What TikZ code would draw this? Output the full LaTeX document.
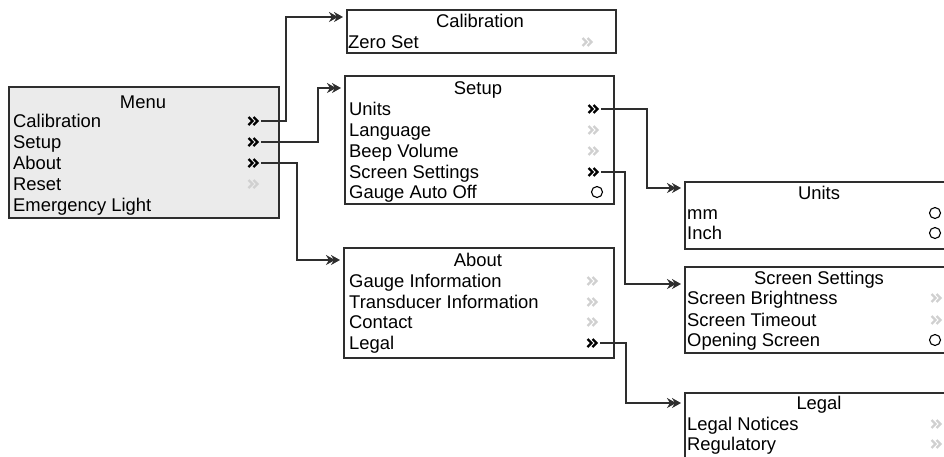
\documentclass[tikz,border=0pt]{standalone}
\usepackage{fontspec}
\setmainfont{Liberation Sans}
\usetikzlibrary{arrows.meta}
\definecolor{menugray}{HTML}{EBEBEB}
\definecolor{edgegray}{HTML}{2E2E2E}
\definecolor{offgray}{HTML}{D0D0D0}

\begin{document}
\begin{tikzpicture}[x=1pt, y=-1pt,
    panel/.style={rectangle, draw=edgegray, line width=2pt, inner sep=0pt, anchor=north west},
    title/.style={font=\fontsize{18.4}{20}\selectfont, inner sep=0pt, text height=13pt, text depth=0pt},
    item/.style={title, anchor=west},
    more/.style={minimum width=14pt, minimum height=12pt, inner sep=0pt, path picture={
        \begin{scope}[shift={(path picture bounding box.center)}, line width=2.4pt]
            \draw (-5.5,-4) -- (-1.5,0) -- (-5.5,4);
            \draw (-0.5,-4) -- (3.5,0) -- (-0.5,4);
        \end{scope}}},
    off/.style={more, color=offgray},
    pick/.style={circle, draw=black, line width=1.1pt, minimum size=11pt, inner sep=0pt},
    arrow/.style={-{Stealth[length=9pt,width=10pt,sep=-4pt]Stealth[length=9pt,width=10pt]}, line width=1.7pt, draw=edgegray, shorten >=3pt}
]
    \useasboundingbox (0,0) rectangle (944,456);
    \clip (0,0) rectangle (944,456);

    % main menu
    \node[panel, fill=menugray, minimum width=270pt, minimum height=131pt] (menubox) at (8,86) {};
    \node[title] (menutitle) at (143,102) {Menu};
    \node[item] (mcalib) at (13,121) {Calibration};
    \node[item] (msetup) at (13,142) {Setup};
    \node[item] (mabout) at (13,163) {About};
    \node[item] (mreset) at (13,184) {Reset};
    \node[item] (mlight) at (13,205) {Emergency Light};
    \node[more] (mcalibgo) at (254,121) {};
    \node[more] (msetupgo) at (254,142) {};
    \node[more] (maboutgo) at (254,163) {};
    \node[off] (mresetgo) at (254,184) {};

    % calibration
    \node[panel, minimum width=269pt, minimum height=43pt] (calbox) at (346,9) {};
    \node[title] (caltitle) at (480,21) {Calibration};
    \node[item] (czero) at (348,42) {Zero Set};
    \node[off] (czerogo) at (588,42) {};

    % setup
    \node[panel, minimum width=269pt, minimum height=128pt] (setbox) at (344,75) {};
    \node[title] (settitle) at (478,88) {Setup};
    \node[item] (sunits) at (349,109) {Units};
    \node[item] (slang) at (349,130) {Language};
    \node[item] (sbeep) at (349,151) {Beep Volume};
    \node[item] (sscreen) at (349,172) {Screen Settings};
    \node[item] (sauto) at (349,192) {Gauge Auto Off};
    \node[more] (sunitsgo) at (594,109) {};
    \node[off] (slanggo) at (594,130) {};
    \node[off] (sbeepgo) at (594,151) {};
    \node[more] (sscreengo) at (594,172) {};
    \node[pick] (sautopick) at (597,192) {};

    % about
    \node[panel, minimum width=270pt, minimum height=110pt] (aboutbox) at (343,247) {};
    \node[title] (abouttitle) at (478,260) {About};
    \node[item] (agauge) at (349,281) {Gauge Information};
    \node[item] (atrans) at (349,302) {Transducer Information};
    \node[item] (acontact) at (349,322) {Contact};
    \node[item] (alegal) at (349,343) {Legal};
    \node[off] (agaugego) at (593,281) {};
    \node[off] (atransgo) at (593,302) {};
    \node[off] (acontactgo) at (593,322) {};
    \node[more] (alegalgo) at (593,343) {};

    % units
    \node[panel, minimum width=270pt, minimum height=67pt] (unitbox) at (684,181) {};
    \node[title] (unittitle) at (819,193) {Units};
    \node[item] (umm) at (687,213) {mm};
    \node[item] (uinch) at (687,233) {Inch};
    \node[pick] (ummpick) at (935,213) {};
    \node[pick] (uinchpick) at (935,233) {};

    % screen settings
    \node[panel, minimum width=270pt, minimum height=86pt] (scrbox) at (684,266) {};
    \node[title] (scrtitle) at (819,278) {Screen Settings};
    \node[item] (sbright) at (687,298) {Screen Brightness};
    \node[item] (stime) at (687,320) {Screen Timeout};
    \node[item] (sopen) at (687,340) {Opening Screen};
    \node[off] (sbrightgo) at (937,298) {};
    \node[off] (stimego) at (937,320) {};
    \node[pick] (sopenpick) at (935,340) {};

    % legal
    \node[panel, minimum width=270pt, minimum height=80pt] (legalbox) at (684,392) {};
    \node[title] (legaltitle) at (819,403) {Legal};
    \node[item] (lnotice) at (687,424) {Legal Notices};
    \node[item] (lregul) at (687,444) {Regulatory};
    \node[off] (lnoticego) at (937,424) {};
    \node[off] (lregulgo) at (937,444) {};

    % connectors
    \draw[arrow] (mcalibgo.east) -- ++(25,0) |- ([yshift=4pt]caltitle -| calbox.west);
    \draw[arrow] (msetupgo.east) -- ++(57,0) |- (settitle -| setbox.west);
    \draw[arrow] (maboutgo.east) -- ++(36,0) |- (abouttitle -| aboutbox.west);
    \draw[arrow] (sunitsgo.east) -- ++(46,0) |- ([yshift=5pt]unittitle -| unitbox.west);
    \draw[arrow] (sscreengo.east) -- ++(24,0) |- ([yshift=-6pt]scrtitle -| scrbox.west);
    \draw[arrow] (alegalgo.east) -- ++(26,0) |- (legaltitle -| legalbox.west);
\end{tikzpicture}
\end{document}
